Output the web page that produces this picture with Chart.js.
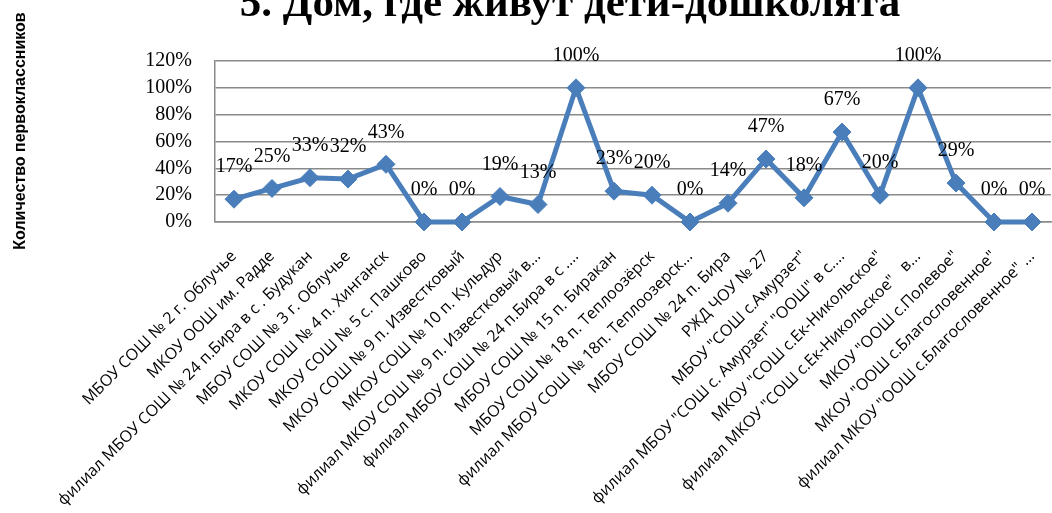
<!DOCTYPE html>
<html>
<head>
<meta charset="utf-8">
<script src="https://cdn.jsdelivr.net/npm/chart.js@4/dist/chart.umd.min.js"></script>
<style>
html,body{margin:0;padding:0;background:#fff;}
#wrap{position:relative;width:1052px;height:513px;overflow:hidden;}
canvas{display:block;}
</style>
</head>
<body>
<div id="wrap"><canvas id="c" width="1052" height="513"></canvas></div>
<script>
const chartTitle = '5. Дом, где живут дети-дошколята';
const yAxisTitle = 'Количество первоклассников';
const categories = [
  'МБОУ СОШ № 2 г. Облучье',
  'МКОУ ООШ им. Радде',
  'филиал МБОУ СОШ № 24 п.Бира в с . Будукан',
  'МБОУ СОШ № 3 г. Облучье',
  'МКОУ СОШ № 4 п. Хинганск',
  'МКОУ СОШ № 5 с. Пашково',
  'МКОУ СОШ № 9 п. Известковый',
  'МКОУ СОШ № 10 п. Кульдур',
  'филиал МКОУ СОШ № 9 п. Известковый в...',
  'филиал МБОУ СОШ № 24 п.Бира в с ....',
  'МБОУ СОШ № 15 п. Биракан',
  'МБОУ СОШ № 18 п. Теплоозёрск',
  'филиал МБОУ СОШ № 18п. Теплоозерск...',
  'МБОУ СОШ № 24 п. Бира',
  'РЖД ЧОУ № 27',
  'МБОУ "СОШ с.Амурзет"',
  'филиал МБОУ "СОШ с. Амурзет" "ООШ" в с....',
  'МКОУ "СОШ с.Ек-Никольское"',
  'филиал МКОУ "СОШ с.Ек-Никольское"   в...',
  'МКОУ "ООШ с.Полевое"',
  'МКОУ "ООШ с.Благословенное"',
  'филиал МКОУ "ООШ с.Благословенное" ...'
];
const percentValues = [17, 25, 33, 32, 43, 0, 0, 19, 13, 100, 23, 20, 0, 14, 47, 18, 67, 20, 100, 29, 0, 0];
const yTickValues = [0, 20, 40, 60, 80, 100, 120];

const lineColor = '#4a7ebb';
const gridColor = '#8a8a8a';

const textPlugin = {
  id: 'extraText',
  afterDraw(chart) {
    const ctx = chart.ctx;
    ctx.save();
    ctx.font = 'bold 43px "Times New Roman", "Liberation Serif", serif';
    ctx.fillStyle = '#000';
    ctx.textAlign = 'center';
    ctx.textBaseline = 'alphabetic';
    ctx.fillText(chartTitle, 570, 16);
    ctx.restore();

    ctx.save();
    ctx.font = 'bold 16px Arial, "Liberation Sans", sans-serif';
    ctx.fillStyle = '#000';
    ctx.textAlign = 'center';
    ctx.textBaseline = 'middle';
    ctx.translate(21, 131);
    ctx.rotate(-Math.PI / 2);
    ctx.fillText(yAxisTitle, 0, 0);
    ctx.restore();
  }
};

const valueLabels = {
  id: 'valueLabels',
  afterDatasetsDraw(chart) {
    const ctx = chart.ctx;
    const meta = chart.getDatasetMeta(0);
    const data = chart.data.datasets[0].data;
    ctx.save();
    ctx.font = '20px "Times New Roman", "Liberation Serif", serif';
    ctx.fillStyle = '#000';
    ctx.textAlign = 'center';
    ctx.textBaseline = 'middle';
    meta.data.forEach((pt, i) => {
      ctx.fillText(data[i] + '%', pt.x, pt.y - 32);
    });
    ctx.restore();
  }
};

new Chart(document.getElementById('c'), {
  type: 'line',
  data: {
    labels: categories,
    datasets: [{
      data: percentValues,
      borderColor: lineColor,
      backgroundColor: lineColor,
      borderWidth: 5,
      pointStyle: 'rectRot',
      pointRadius: 9,
      pointBackgroundColor: lineColor,
      pointBorderColor: lineColor,
      pointBorderWidth: 1,
      tension: 0,
      fill: false,
      clip: false
    }]
  },
  options: {
    responsive: false,
    animation: false,
    devicePixelRatio: 1,
    layout: { autoPadding: false, padding: { top: 61, right: 1, left: 0, bottom: 0 } },
    plugins: {
      legend: { display: false },
      tooltip: { enabled: false },
      title: { display: false }
    },
    scales: {
      x: {
        type: 'category',
        offset: true,
        grid: {
          display: true,
          drawOnChartArea: false,
          drawTicks: true,
          tickLength: 25,
          tickColor: 'rgba(0,0,0,0)'
        },
        border: { display: true, color: gridColor, width: 1.5 },
        ticks: {
          autoSkip: false,
          minRotation: 45,
          maxRotation: 45,
          padding: 0,
          color: '#000',
          font: { family: '"Open Sans", "Noto Sans", sans-serif', size: 16 }
        },
        afterFit(scale) {
          scale.height = 291;
          scale.paddingLeft = 0;
          scale.paddingRight = 0;
        }
      },
      y: {
        min: 0,
        max: 120,
        afterBuildTicks(scale) { scale.ticks = yTickValues.map(v => ({ value: v })); },
        grid: { color: gridColor, lineWidth: 1.5, drawTicks: false },
        border: { display: true, color: gridColor, width: 1.5 },
        ticks: {
          autoSkip: false,
          padding: 23,
          color: '#000',
          font: { family: '"Times New Roman", "Liberation Serif", serif', size: 20 },
          callback: v => v + '%'
        },
        afterFit(scale) { scale.width = 215; }
      }
    }
  },
  plugins: [textPlugin, valueLabels]
});
</script>
</body>
</html>
